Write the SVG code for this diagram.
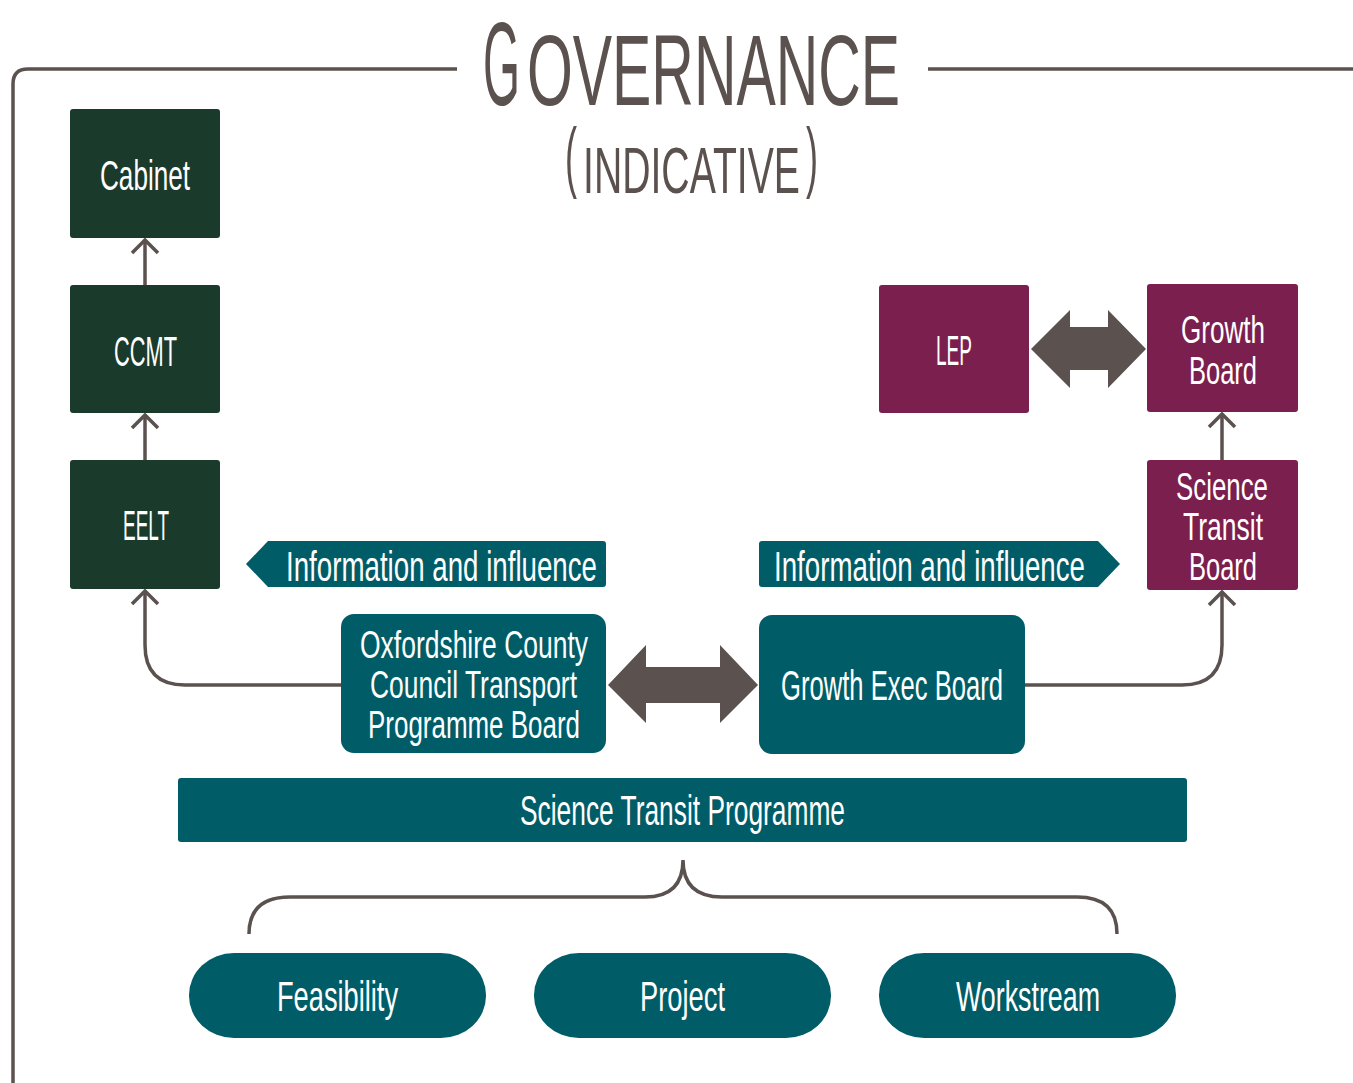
<svg xmlns="http://www.w3.org/2000/svg" width="1353" height="1083" viewBox="0 0 1353 1083">
<defs>
<style>
.t{font-family:"Liberation Sans","DejaVu Sans",sans-serif;fill:#fff;font-size:42px}
.m{font-size:38px}
.h{font-family:"Liberation Sans","DejaVu Sans",sans-serif;fill:#5b514e}
.g{fill:#1a3a2c}
.p{fill:#7b1f4e}
.c{fill:#005d68}
.ln{fill:none;stroke:#5b514e;stroke-width:3.5}
.da{fill:#5b514e}
</style>
<marker id="ah" markerUnits="userSpaceOnUse" markerWidth="30" markerHeight="30" refX="15" refY="15" orient="auto" viewBox="0 0 30 30">
<path d="M2,2 L15,15 L2,28" fill="none" stroke="#5b514e" stroke-width="3.5"/>
</marker>
</defs>

<g id="title">
<path class="ln" d="M457,69 H28 Q13,69 13,84 V1083"/>
<path class="ln" d="M928,69 H1353"/>
<text class="h" x="483" y="105" font-size="118" textLength="37" lengthAdjust="spacingAndGlyphs">G</text>
<text class="h" x="527" y="105" font-size="100" textLength="373" lengthAdjust="spacingAndGlyphs">OVERNANCE</text>
<text class="h" x="565" y="183" font-size="78" textLength="12" lengthAdjust="spacingAndGlyphs">(</text>
<text class="h" x="583" y="193" font-size="64" textLength="217" lengthAdjust="spacingAndGlyphs">INDICATIVE</text>
<text class="h" x="806" y="183" font-size="78" textLength="12" lengthAdjust="spacingAndGlyphs">)</text>
</g>

<g id="connectors">
<path class="ln" d="M145,285 V240" marker-end="url(#ah)"/>
<path class="ln" d="M145,460 V415" marker-end="url(#ah)"/>
<path class="ln" d="M341,685 H185 Q145,685 145,645 V591" marker-end="url(#ah)"/>
<path class="ln" d="M1222,460 V414" marker-end="url(#ah)"/>
<path class="ln" d="M1025,685 H1182 Q1222,685 1222,645 V592" marker-end="url(#ah)"/>
<path class="ln" d="M249,934 Q249,897 290,897 H645 Q683,897 683,860 Q683,897 722,897 H1077 Q1117,897 1117,934"/>
<polygon class="da" points="1031,349 1070,310 1070,327 1108,327 1108,310 1146,349 1108,388 1108,370 1070,370 1070,388"/>
<polygon class="da" points="608,685 646,645 646,667 720,667 720,645 758,685 720,723 720,703 646,703 646,723"/>
</g>

<g id="cabinet"><rect class="g" x="70" y="109" width="150" height="129" rx="3"/><text class="t" x="100" y="190" textLength="90" lengthAdjust="spacingAndGlyphs">Cabinet</text></g>
<g id="ccmt"><rect class="g" x="70" y="285" width="150" height="128" rx="3"/><text class="t" x="114" y="366" textLength="63" lengthAdjust="spacingAndGlyphs">CCMT</text></g>
<g id="eelt"><rect class="g" x="70" y="460" width="150" height="129" rx="3"/><text class="t" x="123" y="540" textLength="46" lengthAdjust="spacingAndGlyphs">EELT</text></g>

<g id="lep"><rect class="p" x="879" y="285" width="150" height="128" rx="3"/><text class="t" x="936" y="365" textLength="36" lengthAdjust="spacingAndGlyphs">LEP</text></g>
<g id="growth-board"><rect class="p" x="1147" y="284" width="151" height="128" rx="3"/>
<text class="t m" x="1181" y="343" textLength="84" lengthAdjust="spacingAndGlyphs">Growth</text>
<text class="t m" x="1189" y="384" textLength="68" lengthAdjust="spacingAndGlyphs">Board</text></g>
<g id="science-transit-board"><rect class="p" x="1147" y="460" width="151" height="130" rx="3"/>
<text class="t m" x="1176" y="500" textLength="92" lengthAdjust="spacingAndGlyphs">Science</text>
<text class="t m" x="1183" y="540" textLength="80" lengthAdjust="spacingAndGlyphs">Transit</text>
<text class="t m" x="1189" y="580" textLength="68" lengthAdjust="spacingAndGlyphs">Board</text></g>

<g id="info-left"><path class="c" d="M246,564 L268,541 H603 Q606,541 606,544 V584 Q606,587 603,587 H268 Z"/>
<text class="t" x="286" y="581" textLength="311" lengthAdjust="spacingAndGlyphs">Information and influence</text></g>
<g id="info-right"><path class="c" d="M1120,564 L1098,541 H762 Q759,541 759,544 V584 Q759,587 762,587 H1098 Z"/>
<text class="t" x="774" y="581" textLength="311" lengthAdjust="spacingAndGlyphs">Information and influence</text></g>

<g id="occ"><rect class="c" x="341" y="614" width="265" height="139" rx="13"/>
<text class="t m" x="360" y="658" textLength="228" lengthAdjust="spacingAndGlyphs">Oxfordshire County</text>
<text class="t m" x="370" y="698" textLength="207" lengthAdjust="spacingAndGlyphs">Council Transport</text>
<text class="t m" x="368" y="738" textLength="212" lengthAdjust="spacingAndGlyphs">Programme Board</text></g>
<g id="growth-exec"><rect class="c" x="759" y="615" width="266" height="139" rx="13"/>
<text class="t" x="781" y="700" textLength="222" lengthAdjust="spacingAndGlyphs">Growth Exec Board</text></g>

<g id="stp"><rect class="c" x="178" y="778" width="1009" height="64" rx="3"/>
<text class="t" x="520" y="825" textLength="325" lengthAdjust="spacingAndGlyphs">Science Transit Programme</text></g>

<g id="feasibility"><rect class="c" x="189" y="953" width="297" height="85" rx="45" ry="42"/>
<text class="t" x="277" y="1011" textLength="121" lengthAdjust="spacingAndGlyphs">Feasibility</text></g>
<g id="project"><rect class="c" x="534" y="953" width="297" height="85" rx="45" ry="42"/>
<text class="t" x="640" y="1011" textLength="85" lengthAdjust="spacingAndGlyphs">Project</text></g>
<g id="workstream"><rect class="c" x="879" y="953" width="297" height="85" rx="45" ry="42"/>
<text class="t" x="956" y="1011" textLength="144" lengthAdjust="spacingAndGlyphs">Workstream</text></g>
</svg>
